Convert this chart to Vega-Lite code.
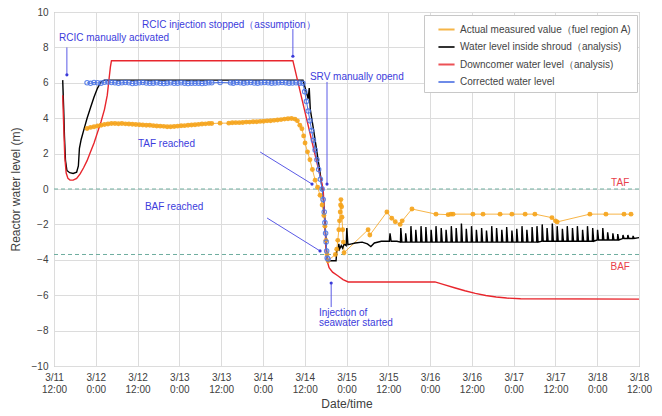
{
  "$schema": "https://vega.github.io/schema/vega-lite/v6.json",
  "width": 585,
  "height": 354,
  "autosize": "none",
  "padding": {"left": 54, "top": 12, "right": 23, "bottom": 50},
  "background": "#ffffff",
  "config": {
    "font": "Liberation Sans",
    "view": {"stroke": "#a0a0a0", "strokeWidth": 1},
    "axis": {
      "grid": true,
      "gridColor": "#dcdcdc",
      "gridWidth": 1,
      "ticks": false,
      "tickSize": 0,
      "domain": false,
      "labelFont": "Liberation Sans",
      "labelFontSize": 10,
      "labelColor": "#404040",
      "titleFont": "Liberation Sans",
      "titleFontSize": 12,
      "titleFontWeight": "normal",
      "titleColor": "#404040",
      "labelOverlap": false
    },
    "axisY": {"labelOverlap": false, "labelFlush": false}
  },
  "datasets": {
    "measured": [
      {"hour": 9.5, "level": 3.42}, {"hour": 10.5, "level": 3.48}, {"hour": 11.5, "level": 3.52}, {"hour": 12.5, "level": 3.56},
      {"hour": 13.5, "level": 3.6}, {"hour": 14.5, "level": 3.64}, {"hour": 15.5, "level": 3.67}, {"hour": 16.5, "level": 3.7},
      {"hour": 17.5, "level": 3.7}, {"hour": 18.5, "level": 3.69}, {"hour": 19.5, "level": 3.7}, {"hour": 20.5, "level": 3.68},
      {"hour": 21.5, "level": 3.67}, {"hour": 22.5, "level": 3.66}, {"hour": 23.5, "level": 3.64}, {"hour": 24.5, "level": 3.63},
      {"hour": 25.5, "level": 3.62}, {"hour": 26.5, "level": 3.6}, {"hour": 27.5, "level": 3.6}, {"hour": 28.5, "level": 3.58},
      {"hour": 29.5, "level": 3.56}, {"hour": 30.5, "level": 3.55}, {"hour": 31.5, "level": 3.54}, {"hour": 32.5, "level": 3.52},
      {"hour": 33.5, "level": 3.52}, {"hour": 34.5, "level": 3.53}, {"hour": 35.5, "level": 3.55}, {"hour": 36.5, "level": 3.57},
      {"hour": 37.5, "level": 3.58}, {"hour": 38.5, "level": 3.6}, {"hour": 39.5, "level": 3.62}, {"hour": 40.5, "level": 3.63},
      {"hour": 41.5, "level": 3.65}, {"hour": 42.5, "level": 3.67}, {"hour": 43.5, "level": 3.68}, {"hour": 44.5, "level": 3.7},
      {"hour": 45.3, "level": 3.7}, {"hour": 47.7, "level": 3.72}, {"hour": 50.2, "level": 3.72}, {"hour": 51.2, "level": 3.74},
      {"hour": 52.2, "level": 3.75}, {"hour": 53.2, "level": 3.75}, {"hour": 54.2, "level": 3.76}, {"hour": 55.2, "level": 3.78},
      {"hour": 56.2, "level": 3.78}, {"hour": 57.2, "level": 3.8}, {"hour": 58.2, "level": 3.8}, {"hour": 59.2, "level": 3.82},
      {"hour": 60.2, "level": 3.83}, {"hour": 61.2, "level": 3.85}, {"hour": 62.2, "level": 3.86}, {"hour": 63.2, "level": 3.88},
      {"hour": 64.2, "level": 3.9}, {"hour": 65.2, "level": 3.92}, {"hour": 66.2, "level": 3.95}, {"hour": 67.2, "level": 3.97},
      {"hour": 68.2, "level": 3.98}, {"hour": 69.2, "level": 3.95}, {"hour": 69.9, "level": 3.85}, {"hour": 70.6, "level": 3.6},
      {"hour": 71.2, "level": 3.4}, {"hour": 71.7, "level": 3.0}, {"hour": 72.1, "level": 2.6}, {"hour": 72.8, "level": 2.1},
      {"hour": 73.5, "level": 1.65}, {"hour": 74.2, "level": 1.1}, {"hour": 75.0, "level": 0.5}, {"hour": 75.7, "level": 0.1},
      {"hour": 76.4, "level": -0.35}, {"hour": 77.0, "level": -0.9}, {"hour": 77.5, "level": -1.5}, {"hour": 77.8, "level": -2.1},
      {"hour": 78.1, "level": -2.9}, {"hour": 78.4, "level": -3.7}, {"hour": 78.7, "level": -4.05},
      {"hour": 80.8, "level": -3.7}, {"hour": 81.2, "level": -3.4}, {"hour": 81.5, "level": -2.9}, {"hour": 81.8, "level": -2.3},
      {"hour": 82.0, "level": -1.8}, {"hour": 82.2, "level": -1.3}, {"hour": 82.3, "level": -0.9}, {"hour": 82.4, "level": -0.6},
      {"hour": 82.6, "level": -1.0}, {"hour": 82.7, "level": -1.6}, {"hour": 82.9, "level": -2.3}, {"hour": 83.1, "level": -3.0},
      {"hour": 83.3, "level": -3.6},
      {"hour": 90.2, "level": -2.3}, {"hour": 90.7, "level": -2.6}, {"hour": 95.6, "level": -1.3}, {"hour": 97.0, "level": -1.65},
      {"hour": 98.0, "level": -1.85}, {"hour": 99.4, "level": -2.0}, {"hour": 100.0, "level": -1.8}, {"hour": 102.8, "level": -1.13},
      {"hour": 109.7, "level": -1.42}, {"hour": 113.2, "level": -1.45}, {"hour": 114.0, "level": -1.42}, {"hour": 114.6, "level": -1.42},
      {"hour": 120.3, "level": -1.42}, {"hour": 123.2, "level": -1.42}, {"hour": 128.1, "level": -1.42}, {"hour": 131.5, "level": -1.42},
      {"hour": 135.3, "level": -1.42}, {"hour": 138.1, "level": -1.42}, {"hour": 143.0, "level": -1.62}, {"hour": 144.0, "level": -1.8},
      {"hour": 144.5, "level": -1.86}, {"hour": 153.9, "level": -1.42}, {"hour": 158.5, "level": -1.42}, {"hour": 163.7, "level": -1.42},
      {"hour": 165.7, "level": -1.42}
    ],
    "shroud": [
      {"hour": 2.5, "level": 6.15}, {"hour": 2.8, "level": 4.4}, {"hour": 3.0, "level": 3.0}, {"hour": 3.3, "level": 1.6},
      {"hour": 3.7, "level": 1.05}, {"hour": 4.5, "level": 0.92}, {"hour": 5.5, "level": 0.88}, {"hour": 6.5, "level": 0.95},
      {"hour": 7.0, "level": 1.3}, {"hour": 7.3, "level": 2.3}, {"hour": 7.8, "level": 2.8}, {"hour": 8.5, "level": 3.3},
      {"hour": 9.5, "level": 4.0}, {"hour": 10.5, "level": 4.6}, {"hour": 11.5, "level": 5.2}, {"hour": 12.5, "level": 5.7},
      {"hour": 13.5, "level": 6.05}, {"hour": 14.5, "level": 6.15}, {"hour": 71.5, "level": 6.15}, {"hour": 72.3, "level": 5.6},
      {"hour": 73.0, "level": 5.1}, {"hour": 73.3, "level": 5.7}, {"hour": 73.6, "level": 4.5}, {"hour": 74.5, "level": 3.4},
      {"hour": 75.5, "level": 2.1}, {"hour": 76.5, "level": 0.8}, {"hour": 77.3, "level": -0.4}, {"hour": 77.8, "level": -1.8},
      {"hour": 78.2, "level": -3.3}, {"hour": 78.5, "level": -4.05}, {"hour": 81.0, "level": -4.05}, {"hour": 81.2, "level": -3.5},
      {"hour": 81.6, "level": -3.45}, {"hour": 81.8, "level": -3.1}, {"hour": 82.0, "level": -3.4}, {"hour": 82.5, "level": -3.2},
      {"hour": 82.9, "level": -3.35}, {"hour": 83.3, "level": -3.1}, {"hour": 83.9, "level": -3.2}, {"hour": 84.1, "level": -2.2},
      {"hour": 84.4, "level": -3.15}, {"hour": 85.5, "level": -3.1}, {"hour": 86.5, "level": -3.05}, {"hour": 88.5, "level": -3.0},
      {"hour": 90.0, "level": -3.1}, {"hour": 91.0, "level": -3.25}, {"hour": 92.0, "level": -3.05}, {"hour": 94.0, "level": -2.95},
      {"hour": 96.3, "level": -2.95}, {"hour": 96.5, "level": -2.5}, {"hour": 96.8, "level": -2.95}, {"hour": 98.5, "level": -2.95},
      {"hour": 99.5, "level": -3.0}, {"hour": 99.6, "level": -2.2}, {"hour": 99.9, "level": -3.0},
      {"hour": 100.9, "level": -3.0}, {"hour": 101.0, "level": -2.5}, {"hour": 101.3, "level": -3.0},
      {"hour": 102.4, "level": -3.0}, {"hour": 102.5, "level": -2.1}, {"hour": 102.8, "level": -3.0},
      {"hour": 103.8, "level": -3.0}, {"hour": 103.9, "level": -2.3}, {"hour": 104.2, "level": -3.0},
      {"hour": 105.3, "level": -3.0}, {"hour": 105.4, "level": -2.1}, {"hour": 105.7, "level": -3.0},
      {"hour": 106.7, "level": -3.0}, {"hour": 106.8, "level": -2.15}, {"hour": 107.1, "level": -3.0},
      {"hour": 108.2, "level": -3.0}, {"hour": 108.3, "level": -2.3}, {"hour": 108.6, "level": -3.0},
      {"hour": 109.6, "level": -3.0}, {"hour": 109.7, "level": -2.1}, {"hour": 110.0, "level": -3.0},
      {"hour": 111.1, "level": -3.0}, {"hour": 111.2, "level": -2.2}, {"hour": 111.5, "level": -3.0},
      {"hour": 112.5, "level": -3.0}, {"hour": 112.6, "level": -2.3}, {"hour": 112.9, "level": -3.0},
      {"hour": 114.0, "level": -3.0}, {"hour": 114.1, "level": -2.1}, {"hour": 114.4, "level": -3.0},
      {"hour": 115.4, "level": -3.0}, {"hour": 115.5, "level": -2.2}, {"hour": 115.8, "level": -3.0},
      {"hour": 116.9, "level": -3.0}, {"hour": 117.0, "level": -1.95}, {"hour": 117.3, "level": -3.0},
      {"hour": 118.3, "level": -3.0}, {"hour": 118.4, "level": -2.25}, {"hour": 118.7, "level": -3.0},
      {"hour": 119.8, "level": -3.0}, {"hour": 119.9, "level": -2.1}, {"hour": 120.2, "level": -3.0},
      {"hour": 121.2, "level": -3.0}, {"hour": 121.3, "level": -2.3}, {"hour": 121.6, "level": -3.0},
      {"hour": 122.7, "level": -3.0}, {"hour": 122.8, "level": -2.2}, {"hour": 123.1, "level": -3.0},
      {"hour": 124.1, "level": -3.0}, {"hour": 124.2, "level": -2.35}, {"hour": 124.5, "level": -3.0},
      {"hour": 125.6, "level": -3.0}, {"hour": 125.7, "level": -2.1}, {"hour": 126.0, "level": -3.0},
      {"hour": 127.0, "level": -3.0}, {"hour": 127.1, "level": -2.2}, {"hour": 127.4, "level": -3.0},
      {"hour": 128.5, "level": -3.0}, {"hour": 128.6, "level": -2.3}, {"hour": 128.9, "level": -3.0},
      {"hour": 129.9, "level": -3.0}, {"hour": 130.0, "level": -2.15}, {"hour": 130.3, "level": -3.0},
      {"hour": 131.4, "level": -3.0}, {"hour": 131.5, "level": -2.35}, {"hour": 131.8, "level": -3.0},
      {"hour": 132.8, "level": -3.0}, {"hour": 132.9, "level": -2.25}, {"hour": 133.2, "level": -3.0},
      {"hour": 134.3, "level": -3.0}, {"hour": 134.4, "level": -2.1}, {"hour": 134.7, "level": -3.0},
      {"hour": 135.7, "level": -3.0}, {"hour": 135.8, "level": -2.3}, {"hour": 136.1, "level": -3.0},
      {"hour": 137.2, "level": -3.0}, {"hour": 137.3, "level": -2.15}, {"hour": 137.6, "level": -3.0},
      {"hour": 138.6, "level": -3.0}, {"hour": 138.7, "level": -2.1}, {"hour": 139.0, "level": -3.0},
      {"hour": 140.1, "level": -2.95}, {"hour": 140.2, "level": -2.0}, {"hour": 140.5, "level": -2.95},
      {"hour": 141.5, "level": -2.95}, {"hour": 141.6, "level": -2.2}, {"hour": 141.9, "level": -2.95},
      {"hour": 143.0, "level": -2.95}, {"hour": 143.1, "level": -1.95}, {"hour": 143.4, "level": -2.95},
      {"hour": 144.4, "level": -2.95}, {"hour": 144.5, "level": -2.1}, {"hour": 144.8, "level": -2.95},
      {"hour": 145.9, "level": -2.95}, {"hour": 146.0, "level": -2.25}, {"hour": 146.3, "level": -2.95},
      {"hour": 147.3, "level": -2.95}, {"hour": 147.4, "level": -2.1}, {"hour": 147.7, "level": -2.95},
      {"hour": 148.8, "level": -2.95}, {"hour": 148.9, "level": -2.2}, {"hour": 149.2, "level": -2.95},
      {"hour": 150.2, "level": -2.95}, {"hour": 150.3, "level": -2.1}, {"hour": 150.6, "level": -2.95},
      {"hour": 151.7, "level": -2.95}, {"hour": 151.8, "level": -2.3}, {"hour": 152.1, "level": -2.95},
      {"hour": 153.1, "level": -2.95}, {"hour": 153.2, "level": -2.1}, {"hour": 153.5, "level": -2.95},
      {"hour": 154.6, "level": -2.95}, {"hour": 154.7, "level": -2.2}, {"hour": 155.0, "level": -2.95},
      {"hour": 156.0, "level": -2.88}, {"hour": 156.1, "level": -2.3}, {"hour": 156.4, "level": -2.88},
      {"hour": 157.5, "level": -2.88}, {"hour": 157.6, "level": -2.2}, {"hour": 157.9, "level": -2.88},
      {"hour": 158.9, "level": -2.88}, {"hour": 159.0, "level": -2.45}, {"hour": 159.3, "level": -2.88},
      {"hour": 160.4, "level": -2.88}, {"hour": 160.5, "level": -2.5}, {"hour": 160.8, "level": -2.88},
      {"hour": 161.8, "level": -2.88}, {"hour": 161.9, "level": -2.55}, {"hour": 162.2, "level": -2.88},
      {"hour": 163.3, "level": -2.8}, {"hour": 163.4, "level": -2.6}, {"hour": 163.7, "level": -2.8},
      {"hour": 164.7, "level": -2.8}, {"hour": 164.8, "level": -2.6}, {"hour": 165.1, "level": -2.8},
      {"hour": 166.2, "level": -2.8}, {"hour": 166.3, "level": -2.65}, {"hour": 166.6, "level": -2.8},
      {"hour": 168.0, "level": -2.75}
    ],
    "downcomer": [
      {"hour": 2.5, "level": 5.3}, {"hour": 2.8, "level": 3.5}, {"hour": 3.1, "level": 1.8}, {"hour": 3.5, "level": 0.9},
      {"hour": 4.0, "level": 0.6}, {"hour": 4.6, "level": 0.5}, {"hour": 5.5, "level": 0.5}, {"hour": 6.5, "level": 0.6},
      {"hour": 7.5, "level": 0.85}, {"hour": 8.5, "level": 1.2}, {"hour": 9.5, "level": 1.6}, {"hour": 10.5, "level": 2.1},
      {"hour": 11.5, "level": 2.6}, {"hour": 12.5, "level": 3.2}, {"hour": 13.5, "level": 3.8}, {"hour": 14.5, "level": 4.5},
      {"hour": 15.3, "level": 5.3}, {"hour": 15.8, "level": 6.2}, {"hour": 16.2, "level": 6.9}, {"hour": 16.5, "level": 7.25},
      {"hour": 68.6, "level": 7.25}, {"hour": 77.3, "level": 0.0}, {"hour": 78.2, "level": -3.6}, {"hour": 78.5, "level": -4.1},
      {"hour": 79.0, "level": -4.45}, {"hour": 80.0, "level": -4.7}, {"hour": 81.5, "level": -4.9}, {"hour": 83.0, "level": -5.12},
      {"hour": 84.5, "level": -5.25}, {"hour": 109.4, "level": -5.25}, {"hour": 112.0, "level": -5.4}, {"hour": 115.0, "level": -5.58},
      {"hour": 118.0, "level": -5.75}, {"hour": 121.0, "level": -5.9}, {"hour": 124.0, "level": -6.02}, {"hour": 127.0, "level": -6.1},
      {"hour": 130.0, "level": -6.16}, {"hour": 134.0, "level": -6.2}, {"hour": 168.0, "level": -6.22}
    ],
    "corrected": [
      {"hour": 9.5, "level": 6.0}, {"hour": 10.5, "level": 5.97}, {"hour": 11.5, "level": 6.02}, {"hour": 12.5, "level": 6.0},
      {"hour": 13.5, "level": 5.98}, {"hour": 14.5, "level": 6.03}, {"hour": 15.5, "level": 6.05}, {"hour": 16.5, "level": 6.02},
      {"hour": 17.5, "level": 6.0}, {"hour": 18.5, "level": 5.97}, {"hour": 19.5, "level": 6.0}, {"hour": 20.5, "level": 6.02},
      {"hour": 21.5, "level": 6.0}, {"hour": 22.5, "level": 5.96}, {"hour": 23.5, "level": 5.98}, {"hour": 24.5, "level": 6.0},
      {"hour": 25.5, "level": 6.02}, {"hour": 26.5, "level": 5.99}, {"hour": 27.5, "level": 5.97}, {"hour": 28.5, "level": 5.98},
      {"hour": 29.5, "level": 6.0}, {"hour": 30.5, "level": 5.97}, {"hour": 31.5, "level": 5.96}, {"hour": 32.5, "level": 5.98},
      {"hour": 33.5, "level": 6.0}, {"hour": 34.5, "level": 5.97}, {"hour": 35.5, "level": 5.98}, {"hour": 36.5, "level": 6.0},
      {"hour": 37.5, "level": 5.98}, {"hour": 38.5, "level": 5.96}, {"hour": 39.5, "level": 5.98}, {"hour": 40.5, "level": 5.97},
      {"hour": 41.5, "level": 5.98}, {"hour": 42.5, "level": 5.96}, {"hour": 43.5, "level": 5.98}, {"hour": 44.5, "level": 6.0},
      {"hour": 45.3, "level": 6.0}, {"hour": 47.7, "level": 6.02}, {"hour": 50.7, "level": 6.0}, {"hour": 51.5, "level": 5.98},
      {"hour": 52.5, "level": 6.02}, {"hour": 53.5, "level": 6.0}, {"hour": 54.5, "level": 5.98}, {"hour": 55.5, "level": 6.0},
      {"hour": 56.5, "level": 6.02}, {"hour": 57.5, "level": 5.99}, {"hour": 58.5, "level": 5.98}, {"hour": 59.5, "level": 6.0},
      {"hour": 60.5, "level": 6.02}, {"hour": 61.5, "level": 6.0}, {"hour": 62.5, "level": 5.98}, {"hour": 63.5, "level": 5.99},
      {"hour": 64.5, "level": 6.0}, {"hour": 65.5, "level": 6.02}, {"hour": 66.5, "level": 6.0}, {"hour": 67.5, "level": 5.98},
      {"hour": 68.5, "level": 5.99}, {"hour": 69.5, "level": 6.0}, {"hour": 70.5, "level": 5.98}, {"hour": 71.5, "level": 5.97},
      {"hour": 72.0, "level": 5.5}, {"hour": 72.5, "level": 4.95}, {"hour": 73.0, "level": 4.4}, {"hour": 73.5, "level": 3.85},
      {"hour": 74.0, "level": 3.3}, {"hour": 74.5, "level": 2.75}, {"hour": 75.0, "level": 2.2}, {"hour": 75.5, "level": 1.65},
      {"hour": 76.0, "level": 1.1}, {"hour": 76.5, "level": 0.55}, {"hour": 77.0, "level": 0.0}, {"hour": 77.3, "level": -0.6},
      {"hour": 77.6, "level": -1.3}, {"hour": 77.8, "level": -1.9}, {"hour": 78.0, "level": -2.5}, {"hour": 78.15, "level": -3.0},
      {"hour": 78.3, "level": -3.5}, {"hour": 78.45, "level": -3.9}, {"hour": 78.7, "level": -3.95}
    ],
    "refs": [{"level": 0}, {"level": -3.7}],
    "arrows": [
      {"hour": 3.7, "level": 8.0, "hour2": 3.7, "level2": 6.45},
      {"hour": 68.6, "level": 9.04, "hour2": 68.6, "level2": 7.5},
      {"hour": 78.4, "level": 6.05, "hour2": 78.4, "level2": 0.28},
      {"hour": 59.2, "level": 2.09, "hour2": 74.1, "level2": 0.28},
      {"hour": 61.2, "level": -1.64, "hour2": 76.4, "level2": -3.5},
      {"hour": 79.6, "level": -6.67, "hour2": 79.6, "level2": -5.31}
    ],
    "notes": [
      {"hour": 1.44, "level": 8.53, "text": "RCIC manually activated"},
      {"hour": 25.3, "level": 9.27, "text": "RCIC injection stopped（assumption）"},
      {"hour": 73.5, "level": 6.33, "text": "SRV manually opend"},
      {"hour": 24.1, "level": 2.54, "text": "TAF reached"},
      {"hour": 26.1, "level": -1.02, "text": "BAF reached"},
      {"hour": 76.1, "level": -7.0, "text": "Injection of"},
      {"hour": 76.1, "level": -7.56, "text": "seawater started"}
    ],
    "refnotes": [
      {"hour": 162.6, "level": 0.34, "text": "TAF"},
      {"hour": 162.6, "level": -4.4, "text": "BAF"}
    ]
  },
  "layer": [
    {
      "data": {"name": "measured"},
      "mark": {"type": "line", "strokeWidth": 1, "opacity": 0.8},
      "encoding": {
        "x": {
          "field": "hour", "type": "quantitative",
          "scale": {"domain": [0, 168], "nice": false, "zero": false},
          "axis": {
            "values": [0, 12, 24, 36, 48, 60, 72, 84, 96, 108, 120, 132, 144, 156, 168],
            "tickCount": 30,
            "labelExpr": "['3/' + (11 + floor((datum.value + 12) / 24)), ((datum.value + 12) % 24 == 0 ? '0:00' : '12:00')]",
            "labelFlush": false,
            "labelOverlap": false,
            "labelLineHeight": 12,
            "labelPadding": 6,
            "title": "Date/time",
            "titlePadding": 4
          }
        },
        "y": {
          "field": "level", "type": "quantitative",
          "scale": {"domain": [-10, 10], "nice": false, "zero": false},
          "axis": {
            "values": [-10, -8, -6, -4, -2, 0, 2, 4, 6, 8, 10],
            "tickCount": 30,
            "format": "d",
            "labelOverlap": false,
            "labelFlush": false,
            "title": "Reactor water level (m)",
            "labelPadding": 6,
            "titlePadding": 9
          }
        },
        "color": {
          "datum": "Actual measured value（fuel region A)",
          "type": "nominal",
          "scale": {
            "domain": ["Actual measured value（fuel region A)", "Water level inside shroud（analysis)", "Downcomer water level（analysis)", "Corrected water level"],
            "range": ["#f5a31a", "#000000", "#e8262d", "#4a6fe3"]
          },
          "legend": {
            "title": null,
            "orient": "none",
            "legendX": 370,
            "legendY": 3,
            "symbolType": "stroke",
            "symbolSize": 260,
            "symbolStrokeWidth": 2,
            "symbolOffset": 8,
            "labelFontSize": 10,
            "labelLimit": 400,
            "labelColor": "#444444",
            "labelFont": "Liberation Sans",
            "fillColor": "#ffffff",
            "strokeColor": "#c8c8c8",
            "padding": 5,
            "rowPadding": 2.5
          }
        }
      }
    },
    {
      "data": {"name": "refs"},
      "mark": {"type": "rule", "color": "#6fae9f", "strokeDash": [4, 3], "strokeWidth": 1},
      "encoding": {
        "y": {"field": "level", "type": "quantitative"}
      }
    },
    {
      "data": {"name": "shroud"},
      "mark": {"type": "line", "strokeWidth": 1.4},
      "encoding": {
        "x": {"field": "hour", "type": "quantitative"},
        "y": {"field": "level", "type": "quantitative"},
        "color": {"datum": "Water level inside shroud（analysis)", "type": "nominal"}
      }
    },
    {
      "data": {"name": "downcomer"},
      "mark": {"type": "line", "strokeWidth": 1.4},
      "encoding": {
        "x": {"field": "hour", "type": "quantitative"},
        "y": {"field": "level", "type": "quantitative"},
        "color": {"datum": "Downcomer water level（analysis)", "type": "nominal"}
      }
    },
    {
      "data": {"name": "corrected"},
      "mark": {"type": "line", "strokeWidth": 1},
      "encoding": {
        "x": {"field": "hour", "type": "quantitative"},
        "y": {"field": "level", "type": "quantitative"},
        "color": {"datum": "Corrected water level", "type": "nominal"}
      }
    },
    {
      "data": {"name": "measured"},
      "mark": {"type": "point", "shape": "circle", "filled": true, "size": 24, "opacity": 0.9},
      "encoding": {
        "x": {"field": "hour", "type": "quantitative"},
        "y": {"field": "level", "type": "quantitative"},
        "color": {"value": "#f5a31a"}
      }
    },
    {
      "data": {"name": "corrected"},
      "mark": {"type": "point", "shape": "circle", "filled": false, "size": 20, "strokeWidth": 1.1, "opacity": 0.9},
      "encoding": {
        "x": {"field": "hour", "type": "quantitative"},
        "y": {"field": "level", "type": "quantitative"},
        "color": {"value": "#4f78e8"}
      }
    },
    {
      "data": {"name": "arrows"},
      "mark": {"type": "rule", "color": "#5a5ae6", "strokeWidth": 1},
      "encoding": {
        "x": {"field": "hour", "type": "quantitative"},
        "y": {"field": "level", "type": "quantitative"},
        "x2": {"field": "hour2"},
        "y2": {"field": "level2"}
      }
    },
    {
      "data": {"name": "arrows"},
      "mark": {"type": "point", "shape": "circle", "filled": true, "size": 10, "color": "#3a3ad8", "opacity": 1},
      "encoding": {
        "x": {"field": "hour2", "type": "quantitative"},
        "y": {"field": "level2", "type": "quantitative"}
      }
    },
    {
      "data": {"name": "notes"},
      "mark": {"type": "text", "align": "left", "baseline": "middle", "font": "Liberation Sans", "fontSize": 10, "color": "#3c3cdc"},
      "encoding": {
        "x": {"field": "hour", "type": "quantitative"},
        "y": {"field": "level", "type": "quantitative"},
        "text": {"field": "text"}
      }
    },
    {
      "data": {"name": "refnotes"},
      "mark": {"type": "text", "align": "center", "baseline": "middle", "font": "Liberation Sans", "fontSize": 10, "color": "#e8404a"},
      "encoding": {
        "x": {"field": "hour", "type": "quantitative"},
        "y": {"field": "level", "type": "quantitative"},
        "text": {"field": "text"}
      }
    }
  ]
}
